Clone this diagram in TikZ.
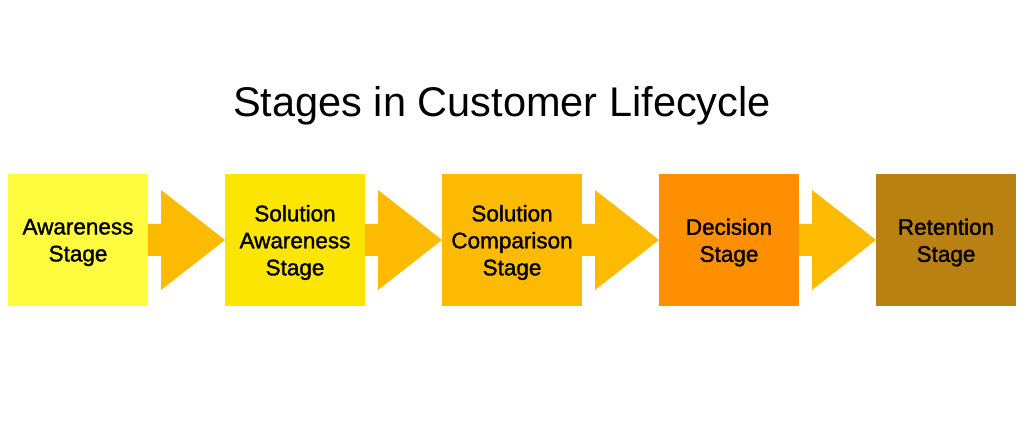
\documentclass[tikz,border=0pt]{standalone}
\usepackage{fontspec}
\setmainfont{Liberation Sans}
\newfontfamily\stagefont{Liberation Sans}[FakeBold=1.4]
\usepackage{tikz}
\usetikzlibrary{positioning,calc}

\definecolor{stageA}{HTML}{FFFC40}
\definecolor{stageB}{HTML}{FCE500}
\definecolor{stageC}{HTML}{FCBB00}
\definecolor{stageD}{HTML}{FD8F00}
\definecolor{stageE}{HTML}{B98012}
\definecolor{arrowcol}{HTML}{FCBB00}

\tikzset{
    stagebox/.style={rectangle, minimum width=140pt, minimum height=132pt, inner sep=0pt, outer sep=0pt},
    stagetext/.style={align=center, inner sep=0pt, yshift=-2.5pt, font=\stagefont\fontsize{22.5}{27}\selectfont},
    stagearrow/.style={fill=arrowcol}
}

\begin{document}
\begin{tikzpicture}[x=1pt,y=1pt]
    \def\boxsep{77}    % gap between two boxes
    \def\shaft{16}     % half height of the arrow shaft
    \def\headstart{13} % where the arrow head starts after the box
    \def\headhalf{50}  % half height of the arrow head

    \useasboundingbox (0,0) rectangle (1024,446);

    % Title
    \node[anchor=base, font=\fontsize{41.5}{50}\selectfont] (title) at (502,329) {Stages in Customer Lifecycle};

    % Stages
    \node[stagebox, fill=stageA, label={[stagetext]center:{Awareness\\Stage}}] (aware) at (78,206) {};
    \node[stagebox, fill=stageB, right=\boxsep of aware,
        label={[stagetext]center:{Solution\\Awareness\\Stage}}] (solaware) {};
    \node[stagebox, fill=stageC, right=\boxsep of solaware,
        label={[stagetext]center:{Solution\\Comparison\\Stage}}] (solcomp) {};
    \node[stagebox, fill=stageD, right=\boxsep of solcomp,
        label={[stagetext]center:{Decision\\Stage}}] (decision) {};
    \node[stagebox, fill=stageE, right=\boxsep of decision,
        label={[stagetext]center:{Retention\\Stage}}] (retention) {};

    % Arrows
    \foreach \a/\b in {aware/solaware, solaware/solcomp, solcomp/decision, decision/retention}
        \fill[stagearrow] ($(\a.east)+(0,\shaft)$) -- ($(\a.east)+(\headstart,\shaft)$)
            -- ($(\a.east)+(\headstart,\headhalf)$) -- (\b.west)
            -- ($(\a.east)+(\headstart,-\headhalf)$) -- ($(\a.east)+(\headstart,-\shaft)$)
            -- ($(\a.east)+(0,-\shaft)$) -- cycle;

\end{tikzpicture}
\end{document}
